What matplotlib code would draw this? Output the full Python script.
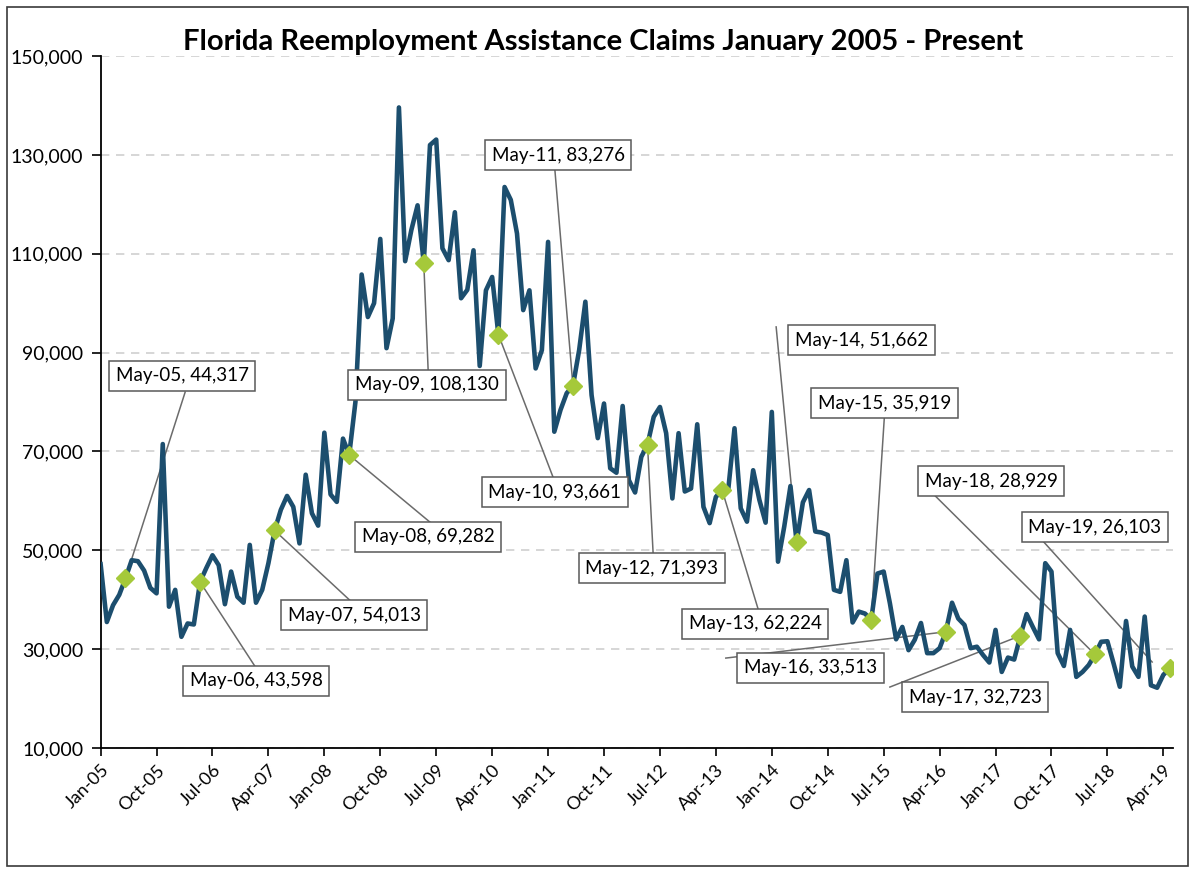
import numpy as np
import pandas as pd
import matplotlib
matplotlib.use("Agg")
import matplotlib.pyplot as plt
from matplotlib.ticker import FuncFormatter, FixedLocator
from matplotlib.patches import Rectangle

plt.rcParams["font.family"] = ["Lato", "DejaVu Sans"]

# monthly initial claims, Jan 2005 .. May 2019
months = pd.date_range("2005-01-01", periods=173, freq="MS")
claims = [
    47200, 35500, 38900, 41000, 44317, 48000, 47800, 45900, 42400, 41300, 71500, 38600,
    42000, 32500, 35200, 35000, 43598, 46400, 49000, 47000, 39100, 45700, 40600, 39400,
    51100, 39400, 42000, 47400, 54013, 58200, 61000, 58800, 51400, 65300, 57500, 55000,
    73800, 61300, 59800, 72600, 69282, 80000, 105800, 97200, 100000, 113000, 90900, 96900,
    139600, 108500, 114800, 119800, 108130, 132000, 133100, 111100, 108700, 118400, 101000, 102700,
    110700, 87300, 102600, 105300, 93661, 123500, 120900, 114100, 98600, 102600, 86800, 90500,
    112400, 74000, 78400, 81800, 83276, 90500, 100300, 81400, 72700, 79700, 66600, 65700,
    79200, 64200, 61700, 68900, 71393, 77000, 79000, 73700, 60500, 73700, 61900, 62500,
    75500, 58800, 55500, 60800, 62224, 62400, 74700, 58500, 55800, 66200, 60200, 55600,
    78000, 47700, 54800, 63000, 51662, 59700, 62200, 53800, 53600, 53100, 42000, 41600,
    48000, 35400, 37600, 37200, 35919, 45300, 45700, 39300, 32000, 34500, 29800, 31900,
    35300, 29200, 29200, 30200, 33513, 39400, 36200, 34900, 30200, 30500, 28800, 27300,
    33900, 25400, 28300, 27900, 32723, 37100, 34500, 32000, 47400, 45700, 29200, 26600,
    33900, 24400, 25400, 26800, 28929, 31500, 31600, 27100, 22400, 35700, 26500, 24400,
    36600, 22700, 22200, 24800, 26103,
]

tick_labels = ["Jan-05", "Oct-05", "Jul-06", "Apr-07", "Jan-08", "Oct-08", "Jul-09",
               "Apr-10", "Jan-11", "Oct-11", "Jul-12", "Apr-13", "Jan-14", "Oct-14",
               "Jul-15", "Apr-16", "Jan-17", "Oct-17", "Jul-18", "Apr-19"]
yticks = [10000, 30000, 50000, 70000, 90000, 110000, 130000, 150000]

# every May gets a labelled marker
may_idx = [i for i, m in enumerate(months) if m.month == 5]

# label box centre (month idx, value) and where its leader line starts / ends
label_layout = {
    4:   ((13.1, 85300), (13.6, 82000), None),
    16:  ((25.0, 23600), (24.8, 26600), None),
    28:  ((40.8, 36900), (40.1, 39900), None),
    40:  ((52.7, 52700), (53.0, 55700), None),
    52:  ((52.5, 83450), (52.7, 86500), None),
    64:  ((73.1, 61800), (72.8, 64800), None),
    76:  ((73.6, 129950), (73.1, 126900), None),
    88:  ((88.7, 46400), (88.9, 49450), None),
    100: ((105.3, 35100), (105.8, 38100), None),
    112: ((122.4, 92550), (108.7, 95200), None),
    124: ((126.1, 79800), (126.1, 76750), None),
    136: ((114.2, 26200), (100.6, 28200), None),
    148: ((140.7, 20300), (127.0, 22340), None),
    160: ((143.3, 64000), (131.9, 64000), None),
    172: ((160.0, 54700), (149.6, 54700), (169.2, 27400)),
}

line_color = "#1c4e6e"
marker_color = "#a5c93a"

fig = plt.figure(figsize=(11.95, 8.69), dpi=100)
ax = fig.add_axes([0.0842, 0.1392, 0.8971, 0.7963])

x = np.arange(len(claims))
ax.plot(x, claims, color=line_color, lw=3.3, solid_joinstyle="round", zorder=3)
ax.plot(may_idx, [claims[i] for i in may_idx], ls="none", marker="D",
        ms=9.5, color=marker_color, zorder=4)

for i in may_idx:
    (bx, by), (sx, sy), end = label_layout[i]
    ex, ey = end if end else (i, claims[i])
    ax.plot([sx, ex], [sy, ey], color="#6b6b6b", lw=1.1, zorder=2)
    txt = "{}, {:,}".format(months[i].strftime("%b-%y"), claims[i])
    ax.text(bx, by, txt, ha="center", va="center", fontsize=13.5, color="black",
            zorder=6,
            bbox=dict(boxstyle="square,pad=0.36", fc="white", ec="#595959", lw=1.1))

ax.set_xlim(0, 172.5)
ax.set_ylim(10000, 150000)
ax.yaxis.set_major_locator(FixedLocator(yticks))
ax.yaxis.set_major_formatter(FuncFormatter(lambda v, p: "{:,.0f}".format(v)))
ax.set_xticks(range(0, 172, 9))
ax.set_xticklabels(tick_labels, rotation=45, ha="right", rotation_mode="anchor",
                   fontsize=13)
ax.tick_params(axis="y", labelsize=14, length=6.5, width=1.2, direction="out", pad=6)
ax.tick_params(axis="x", length=6, width=1.2, direction="out", pad=4)

ax.grid(axis="y", color="#d0d0d0", ls=(0, (5, 4)), lw=1.2, zorder=0)
ax.set_axisbelow(True)
for s in ["top", "right"]:
    ax.spines[s].set_visible(False)
for s in ["left", "bottom"]:
    ax.spines[s].set_linewidth(1.3)
    ax.spines[s].set_color("black")

fig.text(0.505, 0.952, "Florida Reemployment Assistance Claims January 2005 - Present",
         ha="center", va="center", fontsize=21, fontweight="bold")

# thin frame round the whole chart
fig.patches.append(Rectangle((0.006, 0.004), 0.988, 0.988, transform=fig.transFigure,
                             fill=False, ec="#3a3a3a", lw=1.2))

fig.savefig("out.png", dpi=100)
